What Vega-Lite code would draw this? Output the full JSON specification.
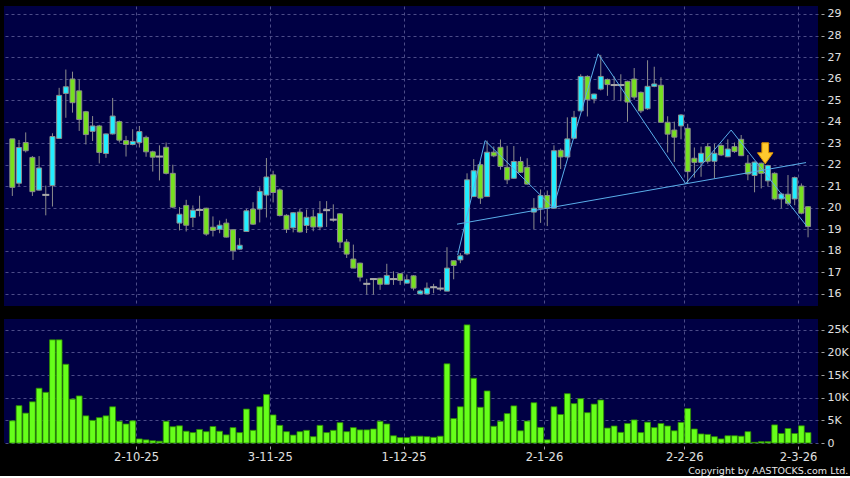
{
 "$schema": "https://vega.github.io/schema/vega-lite/v6.json",
 "background": "#000000",
 "padding": {"left": 4, "top": 6, "right": 2, "bottom": 1},
 "config": {
  "view": {"fill": "#000044", "stroke": null},
  "concat": {"spacing": 13},
  "axis": {"domain": false, "labelFont": "DejaVu Sans", "labelFontSize": 11, "labelColor": "#e0e0e0", "gridColor": "#4c4c88", "gridDash": [3, 3], "gridWidth": 1, "tickColor": "#a0a0a0", "tickSize": 3, "title": null, "labelOverlap": false, "tickCount": 40}
 },
 "title": {"text": "Copyright by AASTOCKS.com Ltd.", "orient": "bottom", "anchor": "end", "font": "DejaVu Sans", "fontSize": 9.5, "fontWeight": "normal", "color": "#e8e8e8", "offset": 3},
 "datasets": {
  "k": [
   {"i":0,"o":23.2,"h":23.2,"l":20.55,"c":20.95,"v":4900},
   {"i":1,"o":21.14,"h":23.15,"l":21.0,"c":22.8,"v":8250},
   {"i":2,"o":23.03,"h":23.5,"l":22.57,"c":22.65,"v":6600},
   {"i":3,"o":22.34,"h":22.4,"l":20.55,"c":20.75,"v":9100},
   {"i":4,"o":20.82,"h":22.4,"l":20.8,"c":21.85,"v":12100},
   {"i":5,"o":20.6,"h":21.03,"l":19.65,"c":20.6,"v":11200},
   {"i":6,"o":21.03,"h":23.46,"l":20.06,"c":23.31,"v":22800},
   {"i":7,"o":23.22,"h":25.57,"l":23.2,"c":25.22,"v":22800},
   {"i":8,"o":25.31,"h":26.42,"l":24.18,"c":25.62,"v":17400},
   {"i":9,"o":25.98,"h":26.32,"l":24.42,"c":24.88,"v":9700},
   {"i":10,"o":25.43,"h":25.95,"l":23.57,"c":24.1,"v":10400},
   {"i":11,"o":24.46,"h":24.5,"l":22.94,"c":23.4,"v":6000},
   {"i":12,"o":23.55,"h":24.26,"l":23.1,"c":23.8,"v":5000},
   {"i":13,"o":23.8,"h":23.85,"l":22.06,"c":22.57,"v":5600},
   {"i":14,"o":22.52,"h":23.45,"l":22.32,"c":23.43,"v":6000},
   {"i":15,"o":23.43,"h":25.1,"l":23.4,"c":24.26,"v":8000},
   {"i":16,"o":24.0,"h":24.05,"l":23.03,"c":23.14,"v":4800},
   {"i":17,"o":23.12,"h":23.34,"l":22.38,"c":22.94,"v":4200},
   {"i":18,"o":22.94,"h":23.65,"l":22.9,"c":23.08,"v":4900},
   {"i":19,"o":23.03,"h":23.8,"l":22.8,"c":23.54,"v":900},
   {"i":20,"o":23.27,"h":23.35,"l":22.37,"c":22.6,"v":700},
   {"i":21,"o":22.6,"h":22.65,"l":21.68,"c":22.35,"v":500},
   {"i":22,"o":22.38,"h":22.9,"l":21.27,"c":22.38,"v":400},
   {"i":23,"o":22.81,"h":23.03,"l":21.55,"c":21.6,"v":4800},
   {"i":24,"o":21.6,"h":22.0,"l":19.98,"c":20.03,"v":3600},
   {"i":25,"o":19.29,"h":20.03,"l":18.95,"c":19.7,"v":3800},
   {"i":26,"o":20.11,"h":20.37,"l":18.9,"c":19.19,"v":2600},
   {"i":27,"o":19.55,"h":20.11,"l":19.1,"c":19.89,"v":2300},
   {"i":28,"o":19.9,"h":20.56,"l":19.6,"c":19.9,"v":3000},
   {"i":29,"o":19.98,"h":20.0,"l":18.7,"c":18.78,"v":2500},
   {"i":30,"o":19.1,"h":19.6,"l":18.67,"c":18.95,"v":3650},
   {"i":31,"o":19.0,"h":19.41,"l":18.82,"c":19.19,"v":2600},
   {"i":32,"o":19.29,"h":19.49,"l":18.62,"c":18.64,"v":1800},
   {"i":33,"o":18.98,"h":19.0,"l":17.58,"c":18.0,"v":3400},
   {"i":34,"o":18.08,"h":18.59,"l":18.05,"c":18.26,"v":2300},
   {"i":35,"o":18.9,"h":19.95,"l":18.9,"c":19.86,"v":7500},
   {"i":36,"o":19.94,"h":20.26,"l":19.2,"c":19.24,"v":2800},
   {"i":37,"o":19.94,"h":20.95,"l":19.32,"c":20.76,"v":8000},
   {"i":38,"o":20.59,"h":22.31,"l":19.55,"c":21.43,"v":10700},
   {"i":39,"o":21.53,"h":21.72,"l":20.25,"c":20.71,"v":6200},
   {"i":40,"o":20.83,"h":20.9,"l":19.6,"c":19.64,"v":3900},
   {"i":41,"o":19.65,"h":19.7,"l":18.83,"c":19.0,"v":2500},
   {"i":42,"o":19.07,"h":19.8,"l":18.86,"c":19.77,"v":1750},
   {"i":43,"o":19.8,"h":19.95,"l":18.85,"c":18.88,"v":2500},
   {"i":44,"o":19.18,"h":19.92,"l":18.83,"c":19.56,"v":2800},
   {"i":45,"o":19.58,"h":19.92,"l":18.91,"c":19.11,"v":1400},
   {"i":46,"o":19.11,"h":20.31,"l":18.96,"c":19.74,"v":3900},
   {"i":47,"o":19.89,"h":20.31,"l":19.11,"c":19.89,"v":2300},
   {"i":48,"o":19.45,"h":20.16,"l":19.35,"c":19.45,"v":2800},
   {"i":49,"o":19.72,"h":19.75,"l":18.13,"c":18.41,"v":4500},
   {"i":50,"o":18.41,"h":18.55,"l":17.67,"c":17.85,"v":2500},
   {"i":51,"o":17.62,"h":18.29,"l":17.2,"c":17.2,"v":3400},
   {"i":52,"o":17.43,"h":17.45,"l":16.58,"c":16.78,"v":2900},
   {"i":53,"o":16.47,"h":16.7,"l":15.97,"c":16.47,"v":2900},
   {"i":54,"o":16.69,"h":16.72,"l":15.97,"c":16.69,"v":3100},
   {"i":55,"o":16.73,"h":16.75,"l":16.19,"c":16.45,"v":4800},
   {"i":56,"o":16.45,"h":17.4,"l":16.45,"c":16.86,"v":4200},
   {"i":57,"o":16.69,"h":17.05,"l":16.42,"c":16.69,"v":1600},
   {"i":58,"o":16.94,"h":16.95,"l":16.42,"c":16.63,"v":1200},
   {"i":59,"o":16.5,"h":16.9,"l":16.48,"c":16.66,"v":1200},
   {"i":60,"o":16.84,"h":16.87,"l":16.16,"c":16.27,"v":1500},
   {"i":61,"o":16.0,"h":16.2,"l":16.0,"c":16.14,"v":1500},
   {"i":62,"o":16.0,"h":16.53,"l":16.0,"c":16.27,"v":1400},
   {"i":63,"o":16.31,"h":16.47,"l":16.03,"c":16.31,"v":1250},
   {"i":64,"o":16.25,"h":16.68,"l":16.13,"c":16.25,"v":1500},
   {"i":65,"o":16.13,"h":18.17,"l":16.13,"c":17.2,"v":17500},
   {"i":66,"o":17.54,"h":17.56,"l":16.68,"c":17.32,"v":5400},
   {"i":67,"o":17.58,"h":17.9,"l":17.43,"c":17.77,"v":8000},
   {"i":68,"o":17.86,"h":21.6,"l":17.8,"c":21.3,"v":26100},
   {"i":69,"o":20.52,"h":22.26,"l":20.5,"c":21.72,"v":14300},
   {"i":70,"o":22.0,"h":22.15,"l":20.18,"c":20.45,"v":7900},
   {"i":71,"o":20.52,"h":23.12,"l":20.5,"c":22.58,"v":11500},
   {"i":72,"o":22.58,"h":22.85,"l":22.35,"c":22.41,"v":3700},
   {"i":73,"o":22.81,"h":23.17,"l":21.77,"c":21.92,"v":4800},
   {"i":74,"o":21.88,"h":22.88,"l":21.1,"c":21.3,"v":6500},
   {"i":75,"o":21.37,"h":22.87,"l":21.35,"c":22.15,"v":8200},
   {"i":76,"o":22.15,"h":22.37,"l":21.62,"c":21.65,"v":2700},
   {"i":77,"o":21.88,"h":22.3,"l":21.08,"c":21.1,"v":4850},
   {"i":78,"o":19.8,"h":20.45,"l":19.0,"c":19.98,"v":8900},
   {"i":79,"o":19.98,"h":20.85,"l":19.3,"c":20.57,"v":3450},
   {"i":80,"o":20.57,"h":20.8,"l":19.15,"c":19.98,"v":700},
   {"i":81,"o":19.98,"h":22.9,"l":19.96,"c":22.65,"v":8000},
   {"i":82,"o":22.67,"h":22.75,"l":21.8,"c":22.36,"v":6300},
   {"i":83,"o":22.36,"h":24.2,"l":22.3,"c":23.2,"v":10900},
   {"i":84,"o":23.23,"h":24.5,"l":23.2,"c":24.2,"v":8700},
   {"i":85,"o":24.5,"h":26.2,"l":24.48,"c":26.1,"v":9800},
   {"i":86,"o":26.1,"h":26.15,"l":24.24,"c":25.02,"v":6700},
   {"i":87,"o":25.05,"h":25.3,"l":24.85,"c":25.28,"v":8600},
   {"i":88,"o":25.51,"h":27.1,"l":25.45,"c":26.1,"v":9500},
   {"i":89,"o":25.96,"h":26.0,"l":25.2,"c":25.72,"v":3300},
   {"i":90,"o":25.7,"h":26.1,"l":25.0,"c":25.7,"v":3750},
   {"i":91,"o":25.7,"h":26.2,"l":24.95,"c":25.7,"v":2350},
   {"i":92,"o":25.87,"h":25.9,"l":24.0,"c":24.91,"v":4300},
   {"i":93,"o":25.98,"h":26.49,"l":25.02,"c":25.14,"v":5100},
   {"i":94,"o":25.36,"h":25.4,"l":24.4,"c":24.5,"v":2300},
   {"i":95,"o":24.6,"h":26.85,"l":24.55,"c":25.64,"v":4600},
   {"i":96,"o":25.64,"h":26.55,"l":25.6,"c":25.75,"v":3400},
   {"i":97,"o":25.69,"h":26.06,"l":23.95,"c":23.97,"v":4300},
   {"i":98,"o":23.97,"h":24.25,"l":22.57,"c":23.42,"v":3750},
   {"i":99,"o":23.61,"h":24.0,"l":22.13,"c":23.28,"v":2700},
   {"i":100,"o":23.8,"h":24.35,"l":23.18,"c":24.31,"v":4550},
   {"i":101,"o":23.69,"h":23.9,"l":21.15,"c":21.68,"v":7600},
   {"i":102,"o":22.3,"h":22.8,"l":21.4,"c":22.11,"v":3100},
   {"i":103,"o":22.11,"h":22.84,"l":21.44,"c":22.53,"v":2000},
   {"i":104,"o":22.84,"h":23.0,"l":22.05,"c":22.16,"v":1900},
   {"i":105,"o":22.16,"h":22.97,"l":21.36,"c":22.53,"v":1400},
   {"i":106,"o":22.89,"h":22.95,"l":22.4,"c":22.45,"v":900},
   {"i":107,"o":22.37,"h":23.18,"l":22.35,"c":22.73,"v":1600},
   {"i":108,"o":22.84,"h":23.03,"l":22.55,"c":22.61,"v":1600},
   {"i":109,"o":23.18,"h":23.38,"l":22.4,"c":22.42,"v":1500},
   {"i":110,"o":22.07,"h":22.45,"l":21.28,"c":21.57,"v":2500},
   {"i":111,"o":21.5,"h":22.15,"l":20.72,"c":22.12,"v":150},
   {"i":112,"o":22.07,"h":22.1,"l":20.9,"c":21.6,"v":300},
   {"i":113,"o":21.25,"h":22.0,"l":21.0,"c":21.96,"v":300},
   {"i":114,"o":21.6,"h":21.65,"l":20.35,"c":20.41,"v":4000},
   {"i":115,"o":20.41,"h":20.7,"l":19.98,"c":20.64,"v":2100},
   {"i":116,"o":20.63,"h":21.52,"l":20.1,"c":20.21,"v":3200},
   {"i":117,"o":20.41,"h":21.45,"l":20.12,"c":21.4,"v":2100},
   {"i":118,"o":21.01,"h":21.13,"l":19.7,"c":19.75,"v":3800},
   {"i":119,"o":20.05,"h":20.08,"l":18.63,"c":19.13,"v":2300}
  ],
  "lines": [
   {"g":"zig","i":66.6,"p":17.81},
   {"g":"zig","i":70.7,"p":23.12},
   {"g":"zig","i":80.9,"p":20.0},
   {"g":"zig","i":87.6,"p":27.15},
   {"g":"zig","i":100.7,"p":21.12},
   {"g":"zig","i":107.5,"p":23.61},
   {"g":"zig","i":118.8,"p":19.15},
   {"g":"sup","i":66.5,"p":19.24},
   {"g":"sup","i":118.7,"p":22.1}
  ],
  "arrow": [
   {"i":112.6,"p":22.53}
  ]
 },
 "vconcat": [
  {
   "width": 814,
   "height": 300,
   "encoding": {
    "x": {"field": "i", "type": "quantitative", "scale": {"domain": [-0.5, 119.74], "nice": false, "zero": false},
          "axis": {"values": [18.5, 38.5, 58.5, 79.5, 100.5, 117.5], "grid": true, "labels": false, "ticks": false, "tickCount": 40}}
   },
   "layer": [
    {
     "data": {"name": "k"},
     "mark": {"type": "rule", "color": "#8c8c8c", "strokeWidth": 1},
     "encoding": {
      "y": {"field": "l", "type": "quantitative", "scale": {"domain": [15.44, 29.37], "nice": false, "zero": false},
            "axis": {"orient": "right", "values": [16,17,18,19,20,21,22,23,24,25,26,27,28,29], "tickCount": 40, "format": ".0f", "grid": true, "offset": 3, "labelPadding": 3}},
      "y2": {"field": "h"}
     }
    },
    {
     "data": {"name": "k"},
     "mark": {"type": "bar", "orient": "vertical", "size": 5, "stroke": "#8c8c8c", "strokeWidth": 1},
     "encoding": {
      "y": {"field": "o", "type": "quantitative"},
      "y2": {"field": "c"},
      "fill": {"condition": [{"test": "datum.c > datum.o", "value": "#22eeff"}, {"test": "datum.c < datum.o", "value": "#76e020"}], "value": "#8c8c8c"}
     }
    },
    {
     "data": {"name": "k"},
     "transform": [{"filter": "datum.o == datum.c"}],
     "mark": {"type": "tick", "orient": "horizontal", "size": 7, "thickness": 2, "color": "#a8a8a8", "opacity": 1},
     "encoding": {
      "y": {"field": "c", "type": "quantitative"}
     }
    },
    {
     "data": {"name": "lines"},
     "mark": {"type": "line", "color": "#5aaeea", "strokeWidth": 1},
     "encoding": {
      "y": {"field": "p", "type": "quantitative"},
      "detail": {"field": "g"},
      "order": {"field": "i"}
     }
    },
    {
     "data": {"name": "arrow"},
     "mark": {"type": "point", "shape": "M-0.32,-1L0.32,-1L0.32,-0.05L0.74,-0.05L0,1L-0.74,-0.05L-0.32,-0.05Z", "size": 441, "filled": true, "fill": "#ffc92e", "stroke": "#e09400", "strokeWidth": 1, "opacity": 1},
     "encoding": {
      "y": {"field": "p", "type": "quantitative"}
     }
    }
   ]
  },
  {
   "width": 814,
   "height": 124,
   "data": {"name": "k"},
   "mark": {"type": "bar", "size": 5.8, "fill": "#66ff1a", "stroke": "#2c8a00", "strokeWidth": 0.8},
   "encoding": {
    "x": {"field": "i", "type": "quantitative", "scale": {"domain": [-0.5, 119.74], "nice": false, "zero": false},
          "axis": {"values": [18.5, 38.5, 58.5, 79.5, 100.5, 117.5], "tickCount": 40, "grid": true, "offset": 3, "labelPadding": 2, "labelFontSize": 11.5,
                   "labelExpr": "datum.value == 18.5 ? '2-10-25' : datum.value == 38.5 ? '3-11-25' : datum.value == 58.5 ? '1-12-25' : datum.value == 79.5 ? '2-1-26' : datum.value == 100.5 ? '2-2-26' : '2-3-26'"}},
    "y": {"field": "v", "type": "quantitative", "scale": {"domain": [0, 27400], "nice": false},
          "axis": {"orient": "right", "values": [0, 5000, 10000, 15000, 20000, 25000], "tickCount": 40, "grid": true, "offset": 3, "labelPadding": 3,
                   "labelExpr": "datum.value == 0 ? '0' : (datum.value / 1000) + 'K'"}}
   }
  }
 ]
}
